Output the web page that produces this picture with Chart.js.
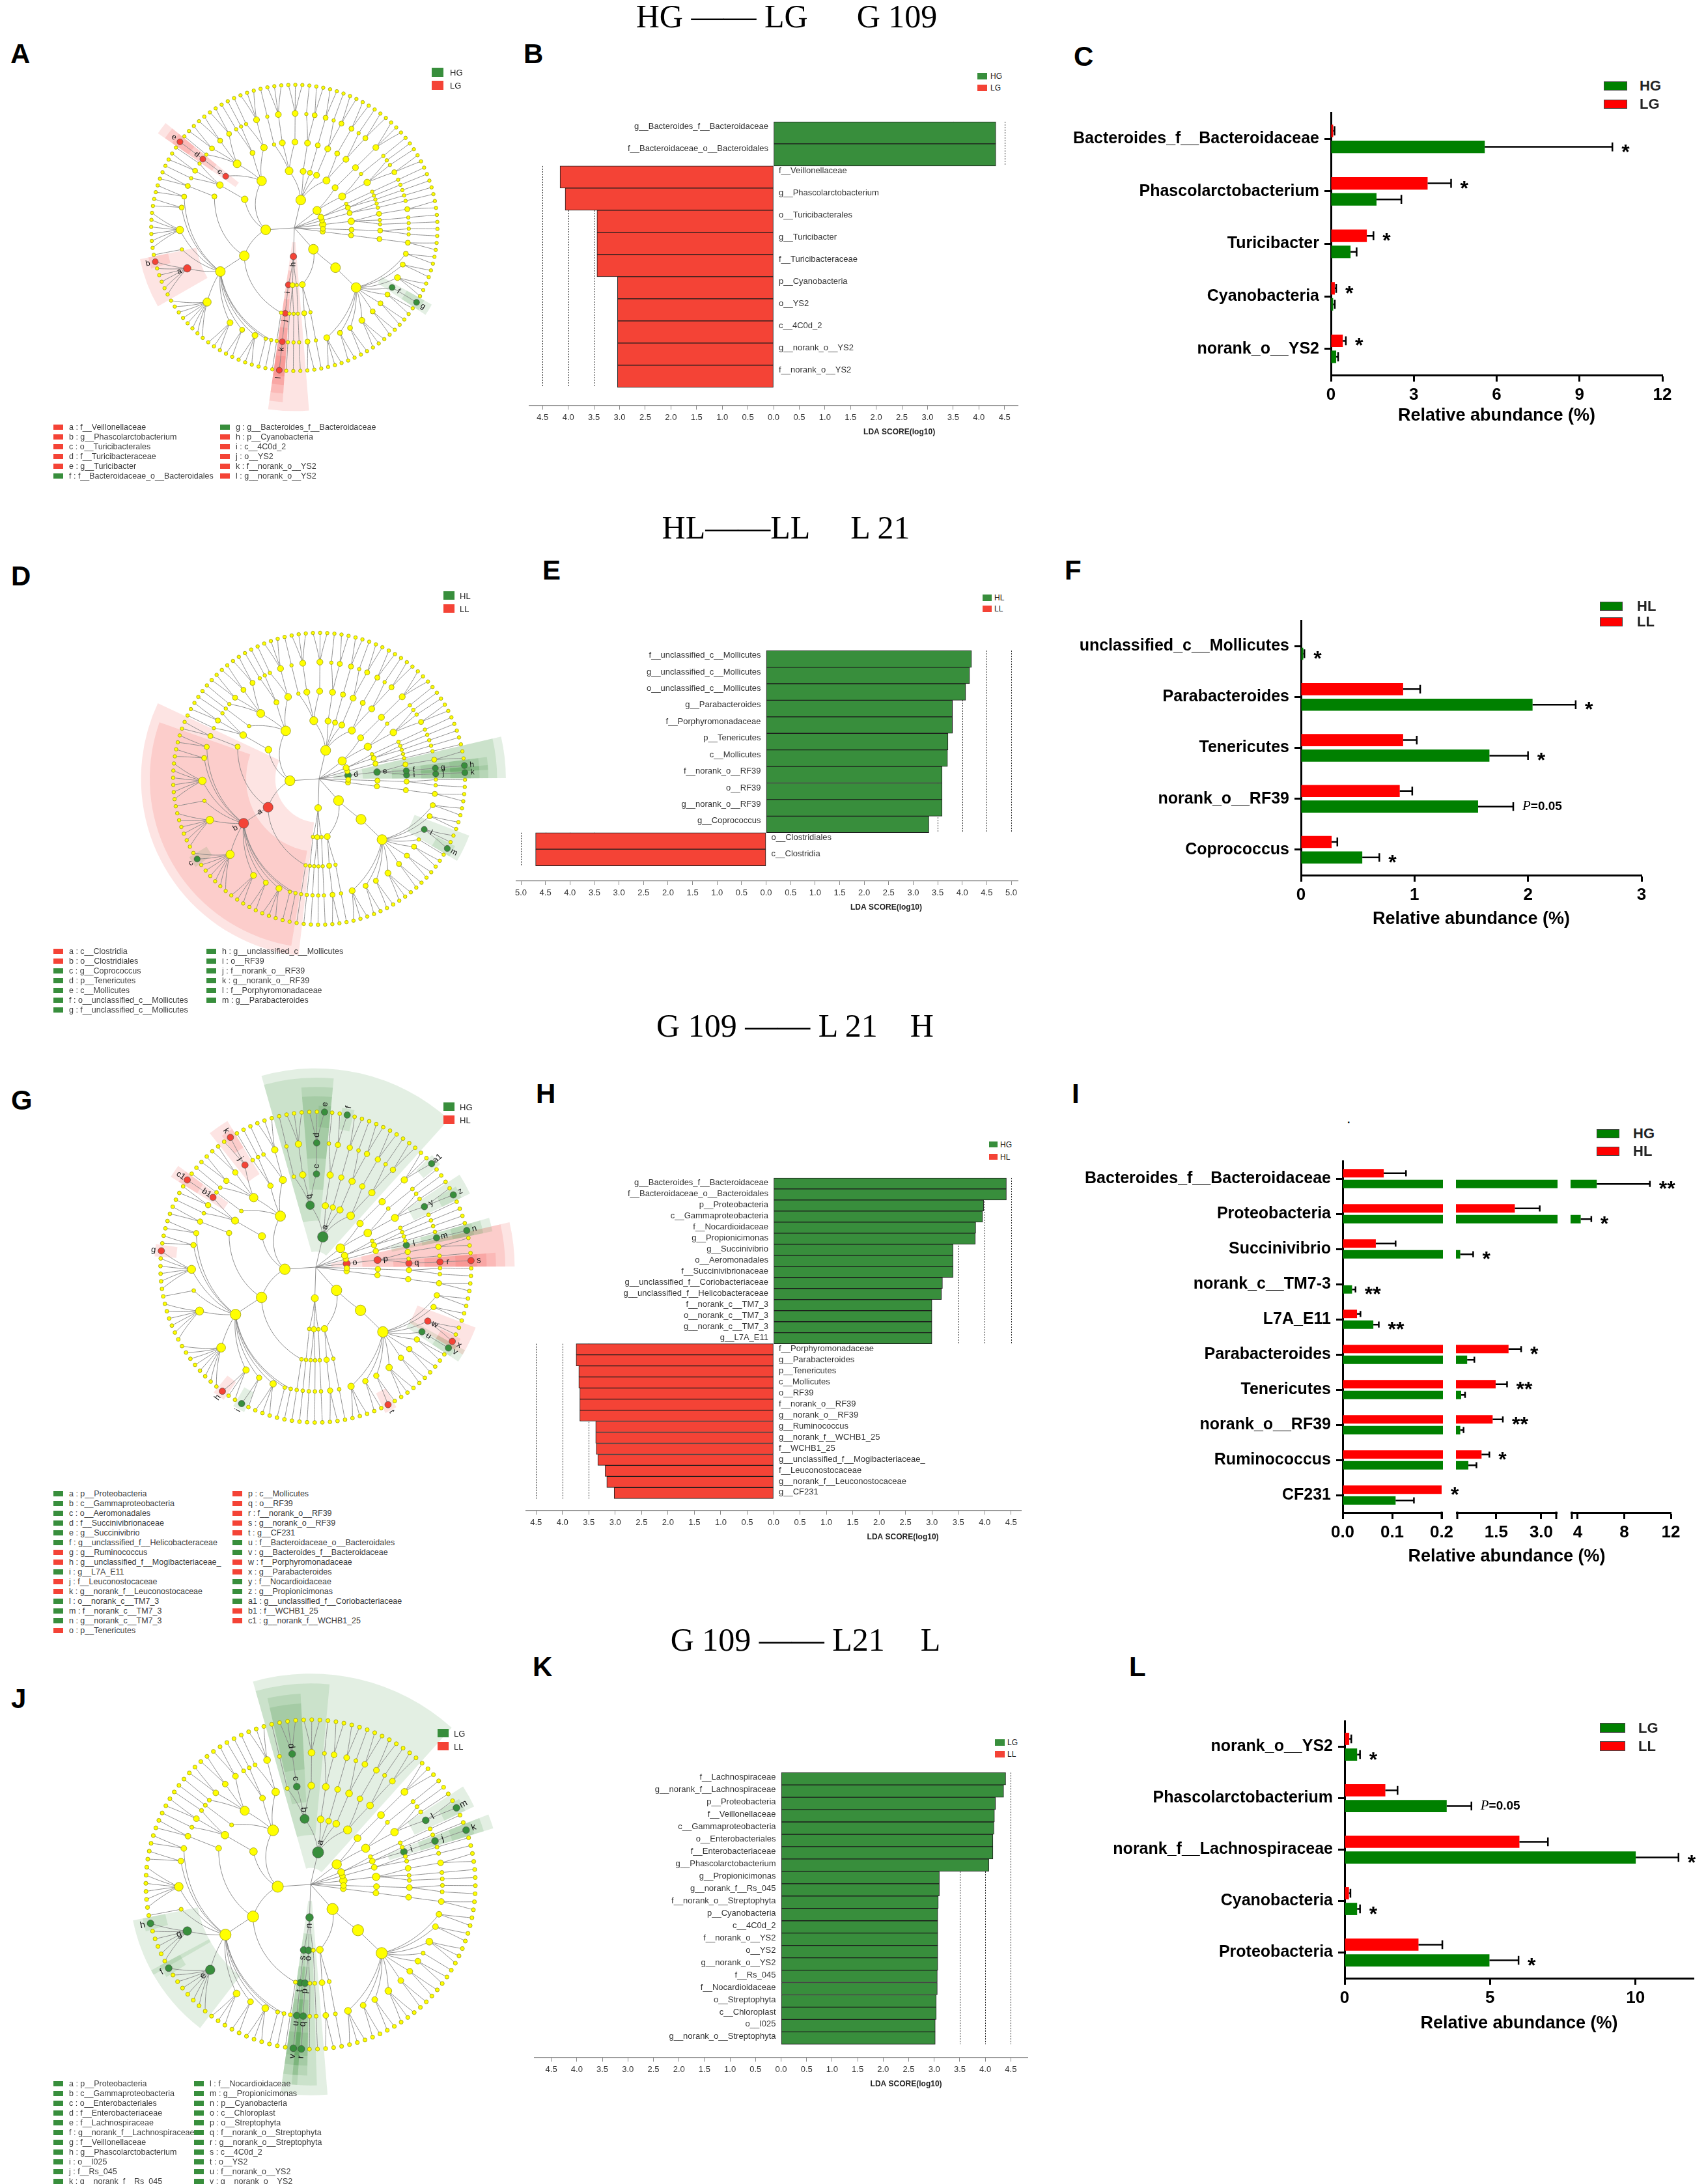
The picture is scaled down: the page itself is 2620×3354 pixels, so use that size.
<!DOCTYPE html>
<html>
<head>
<meta charset="utf-8">
<script src="https://cdn.jsdelivr.net/npm/chart.js@4.4.1/dist/chart.umd.min.js"></script>
<style>
  html, body { margin: 0; padding: 0; background: #fff; }
  body { position: relative; width: 2620px; height: 3354px; overflow: hidden;
         font-family: 'Liberation Sans', Arial, Helvetica, sans-serif; }
  .title { position: absolute; font-family: 'Liberation Serif', 'Times New Roman', serif;
           font-size: 50px; line-height: 1; white-space: pre; transform: translate(-50%, -50%); }
  .tag { position: absolute; font-weight: bold; font-size: 42px; line-height: 1; }
</style>
</head>
<body>
<div class="title" style="left:1208px;top:25px">HG —— LG<span style="margin-left:75px">G 109</span></div>
<div class="title" style="left:1207px;top:810px">HL——LL<span style="margin-left:62px">L 21</span></div>
<div class="title" style="left:1221px;top:1575px">G 109 —— L 21<span style="margin-left:50px">H</span></div>
<div class="title" style="left:1237px;top:2518px">G 109 —— L21<span style="margin-left:55px">L</span></div>

<div class="tag" style="left:16px;top:62px">A</div>
<div class="tag" style="left:804px;top:62px">B</div>
<div class="tag" style="left:1649px;top:66px">C</div>
<div class="tag" style="left:17px;top:864px">D</div>
<div class="tag" style="left:833px;top:855px">E</div>
<div class="tag" style="left:1635px;top:855px">F</div>
<div class="tag" style="left:17px;top:1669px">G</div>
<div class="tag" style="left:823px;top:1659px">H</div>
<div class="tag" style="left:1646px;top:1659px">I</div>
<div class="tag" style="left:17px;top:2588px">J</div>
<div class="tag" style="left:818px;top:2539px">K</div>
<div class="tag" style="left:1734px;top:2539px">L</div>

<script>
// ---------------------------------------------------------------
// LDA (LEfSe) bar data
// ---------------------------------------------------------------
const ldaTicks45 = [-4.5, -4, -3.5, -3, -2.5, -2, -1.5, -1, -0.5, 0, 0.5, 1, 1.5, 2, 2.5, 3, 3.5, 4, 4.5];
const ldaTicks50 = [-5, -4.5, -4, -3.5, -3, -2.5, -2, -1.5, -1, -0.5, 0, 0.5, 1, 1.5, 2, 2.5, 3, 3.5, 4, 4.5, 5];

const bNames = ['g__Bacteroides_f__Bacteroidaceae', 'f__Bacteroidaceae_o__Bacteroidales', 'f__Veillonellaceae',
  'g__Phascolarctobacterium', 'o__Turicibacterales', 'g__Turicibacter', 'f__Turicibacteraceae', 'p__Cyanobacteria',
  'o__YS2', 'c__4C0d_2', 'g__norank_o__YS2', 'f__norank_o__YS2'];
const bScores = [4.33, 4.33, 4.16, 4.06, 3.44, 3.44, 3.44, 3.04, 3.04, 3.04, 3.04, 3.04];
const bGroups = ['HG', 'HG', 'LG', 'LG', 'LG', 'LG', 'LG', 'LG', 'LG', 'LG', 'LG', 'LG'];

const eNames = ['f__unclassified_c__Mollicutes', 'g__unclassified_c__Mollicutes', 'o__unclassified_c__Mollicutes',
  'g__Parabacteroides', 'f__Porphyromonadaceae', 'p__Tenericutes', 'c__Mollicutes', 'f__norank_o__RF39', 'o__RF39',
  'g__norank_o__RF39', 'g__Coprococcus', 'o__Clostridiales', 'c__Clostridia'];
const eScores = [4.19, 4.15, 4.07, 3.80, 3.80, 3.71, 3.70, 3.59, 3.59, 3.59, 3.32, 4.70, 4.70];
const eGroups = ['HL', 'HL', 'HL', 'HL', 'HL', 'HL', 'HL', 'HL', 'HL', 'HL', 'HL', 'LL', 'LL'];

const hNames = ['g__Bacteroides_f__Bacteroidaceae', 'f__Bacteroidaceae_o__Bacteroidales', 'p__Proteobacteria',
  'c__Gammaproteobacteria', 'f__Nocardioidaceae', 'g__Propionicimonas', 'g__Succinivibrio', 'o__Aeromonadales',
  'f__Succinivibrionaceae', 'g__unclassified_f__Coriobacteriaceae', 'g__unclassified_f__Helicobacteraceae',
  'f__norank_c__TM7_3', 'o__norank_c__TM7_3', 'g__norank_c__TM7_3', 'g__L7A_E11',
  'f__Porphyromonadaceae', 'g__Parabacteroides', 'p__Tenericutes', 'c__Mollicutes', 'o__RF39', 'f__norank_o__RF39',
  'g__norank_o__RF39', 'g__Ruminococcus', 'g__norank_f__WCHB1_25', 'f__WCHB1_25',
  'g__unclassified_f__Mogibacteriaceae_', 'f__Leuconostocaceae', 'g__norank_f__Leuconostocaceae', 'g__CF231'];
const hScores = [4.41, 4.41, 3.98, 3.96, 3.83, 3.82, 3.40, 3.40, 3.40, 3.20, 3.18, 3.00, 3.00, 3.00, 3.00,
  3.74, 3.74, 3.69, 3.69, 3.67, 3.67, 3.67, 3.37, 3.37, 3.36, 3.33, 3.19, 3.16, 3.02];
const hGroups = ['HG', 'HG', 'HG', 'HG', 'HG', 'HG', 'HG', 'HG', 'HG', 'HG', 'HG', 'HG', 'HG', 'HG', 'HG',
  'HL', 'HL', 'HL', 'HL', 'HL', 'HL', 'HL', 'HL', 'HL', 'HL', 'HL', 'HL', 'HL', 'HL'];

const kNames = ['f__Lachnospiraceae', 'g__norank_f__Lachnospiraceae', 'p__Proteobacteria', 'f__Veillonellaceae',
  'c__Gammaproteobacteria', 'o__Enterobacteriales', 'f__Enterobacteriaceae', 'g__Phascolarctobacterium',
  'g__Propionicimonas', 'g__norank_f__Rs_045', 'f__norank_o__Streptophyta', 'p__Cyanobacteria', 'c__4C0d_2',
  'f__norank_o__YS2', 'o__YS2', 'g__norank_o__YS2', 'f__Rs_045', 'f__Nocardioidaceae', 'o__Streptophyta',
  'c__Chloroplast', 'o__I025', 'g__norank_o__Streptophyta'];
const kScores = [4.40, 4.36, 4.20, 4.18, 4.17, 4.15, 4.15, 4.07, 3.10, 3.10, 3.08, 3.07, 3.07, 3.07, 3.07, 3.07,
  3.06, 3.06, 3.04, 3.04, 3.02, 3.02];
const kGroups = ['LG', 'LG', 'LG', 'LG', 'LG', 'LG', 'LG', 'LG', 'LG', 'LG', 'LG', 'LG', 'LG', 'LG', 'LG', 'LG',
  'LG', 'LG', 'LG', 'LG', 'LG', 'LG'];

// ---------------------------------------------------------------
// relative abundance (%) data, mean and SEM
// ---------------------------------------------------------------
const cCats = ['Bacteroides_f__Bacteroidaceae', 'Phascolarctobacterium', 'Turicibacter', 'Cyanobacteria', 'norank_o__YS2'];
const cHG = [5.57, 1.65, 0.71, 0.08, 0.19];
const cHGErr = [4.62, 0.90, 0.22, 0.06, 0.07];
const cLG = [0.08, 3.50, 1.30, 0.14, 0.43];
const cLGErr = [0.05, 0.85, 0.24, 0.05, 0.11];
const cSig = ['*', '*', '*', '*', '*'];
const cSigRow = ['HG', 'LG', 'LG', 'LG', 'LG'];
const cTicks = [0, 3, 6, 9, 12];
const cTickLabels = ['0', '3', '6', '9', '12'];

const fCats = ['unclassified_c__Mollicutes', 'Parabacteroides', 'Tenericutes', 'norank_o__RF39', 'Coprococcus'];
const fHL = [0.02, 2.04, 1.66, 1.56, 0.54];
const fHLErr = [0.01, 0.38, 0.34, 0.31, 0.15];
const fLL = [0, 0.90, 0.90, 0.87, 0.27];
const fLLErr = [0, 0.15, 0.12, 0.11, 0.05];
const fSig = ['*', '*', '*', 'P=0.05', '*'];
const fSigRow = ['HL', 'HL', 'HL', 'HL', 'HL'];
const fTicks = [0, 1, 2, 3];
const fTickLabels = ['0', '1', '2', '3'];

const iCats = ['Bacteroides_f__Bacteroidaceae', 'Proteobacteria', 'Succinivibrio', 'norank_c__TM7-3', 'L7A_E11',
  'Parabacteroides', 'Tenericutes', 'norank_o__RF39', 'Ruminococcus', 'CF231'];
const iHG = [5.64, 4.26, 0.30, 0.019, 0.062, 0.53, 0.33, 0.30, 0.57, 0.107];
const iHGErr = [4.56, 0.91, 0.43, 0.007, 0.011, 0.24, 0.13, 0.11, 0.27, 0.037];
const iHL = [0.083, 2.12, 0.067, 0, 0.029, 1.91, 1.48, 1.38, 1.01, 0.2];
const iHLErr = [0.045, 0.83, 0.04, 0, 0.007, 0.42, 0.38, 0.34, 0.26, 0];
const iSig = ['**', '*', '*', '**', '**', '*', '**', '**', '*', '*'];
const iSigRow = ['HG', 'HG', 'HG', 'HG', 'HG', 'HL', 'HL', 'HL', 'HL', 'HL'];
const iSegments = [[0, 0.2], [0.2, 3.5], [3.5, 12]];
const iTicks = [0, 0.1, 0.2, 1.5, 3, 4, 8, 12];
const iTickLabels = ['0.0', '0.1', '0.2', '1.5', '3.0', '4', '8', '12'];

const lCats = ['norank_o__YS2', 'Phascolarctobacterium', 'norank_f__Lachnospiraceae', 'Cyanobacteria', 'Proteobacteria'];
const lLG = [0.43, 3.51, 10.01, 0.43, 4.98];
const lLGErr = [0.10, 0.85, 1.47, 0.10, 1.00];
const lLL = [0.16, 1.40, 6.01, 0.15, 2.54];
const lLLErr = [0.07, 0.42, 0.98, 0.05, 0.82];
const lSig = ['*', 'P=0.05', '*', '*', '*'];
const lSigRow = ['LG', 'LG', 'LG', 'LG', 'LG'];
const lTicks = [0, 5, 10];
const lTickLabels = ['0', '5', '10'];

// ---------------------------------------------------------------
// cladogram: taxonomy (phylum > class > order > family > genus),
// numbers stand for unnamed taxa; highlighted clades per panel
// ---------------------------------------------------------------
const cladeTree = [
  ['p__Tenericutes', [
    ['c__Mollicutes', [
      ['o__RF39', [['f__norank_o__RF39', ['g__norank_o__RF39']]]],
      ['o__unclassified_c__Mollicutes', [['f__unclassified_c__Mollicutes', ['g__unclassified_c__Mollicutes']]]],
      [2]]]]],
  ['p__TM7', [
    ['c__TM7_3', [
      ['o__norank_c__TM7_3', [['f__norank_c__TM7_3', ['g__norank_c__TM7_3']]]],
      [1]]]]],
  ['p__Planctomycetes', [
    ['c__Phycisphaerae', [
      ['o__I025', [['f__Rs_045', ['g__norank_f__Rs_045']]]],
      [1]]],
    [[1]]]],
  ['p__Actinobacteria', [
    ['c__Actinobacteria', [
      ['o__Actinomycetales', [['f__Nocardioidaceae', ['g__Propionicimonas', 1]], 1, 1]],
      ['o__Bifidobacteriales', [1]]]],
    ['c__Coriobacteriia', [['o__Coriobacteriales', [['f__Coriobacteriaceae', ['g__unclassified_f__Coriobacteriaceae', 2]]]]]]]],
  ['p__Proteobacteria', [
    ['c__Alphaproteobacteria', [[2, 1], [2]]],
    ['c__Betaproteobacteria', [[2, 1]]],
    ['c__Deltaproteobacteria', [[2]]],
    ['c__Epsilonproteobacteria', [['o__Campylobacterales', [['f__Helicobacteraceae', ['g__unclassified_f__Helicobacteraceae', 1]], 1]]]],
    ['c__Gammaproteobacteria', [
      ['o__Aeromonadales', [['f__Succinivibrionaceae', ['g__Succinivibrio', 2]]]],
      ['o__Enterobacteriales', [['f__Enterobacteriaceae', [3]]]],
      [1]]]]],
  ['p__Firmicutes', [
    ['c__Bacilli', [
      [3, 1], [1, 1],
      ['o__Lactobacillales', [['f__Leuconostocaceae', ['g__norank_f__Leuconostocaceae', 1]], 2, 2, 1]],
      ['o__Turicibacterales', [['f__Turicibacteraceae', ['g__Turicibacter']]]]]],
    ['c__Erysipelotrichi', [[['f__WCHB1_25', ['g__norank_f__WCHB1_25']], 2, 1]]],
    ['c__Clostridia', [
      [2],
      ['o__Clostridiales', [
        2, 2,
        ['f__Ruminococcaceae', ['g__Ruminococcus', 5]],
        1,
        ['f__Veillonellaceae', ['g__Phascolarctobacterium', 5]],
        ['f__Lachnospiraceae', ['g__norank_f__Lachnospiraceae', 'g__Coprococcus', 6]],
        ['f__Mogibacteriaceae', ['g__unclassified_f__Mogibacteriaceae_', 2]],
        ['', ['g__L7A_E11', 1]],
        3, 1, 1]],
      [1]]]]],
  ['p__Cyanobacteria', [
    ['c__4C0d_2', [['o__YS2', [['f__norank_o__YS2', ['g__norank_o__YS2']]]]]],
    ['c__Chloroplast', [['o__Streptophyta', [['f__norank_o__Streptophyta', ['g__norank_o__Streptophyta']]]], [1]]],
    [[1]]]],
  ['p__Bacteroidetes', [
    [[2], [1]],
    ['c__Bacteroidia', [
      ['o__Bacteroidales', [
        3, 2, ['f__Paraprevotellaceae', ['g__CF231', 1]], 3, 2, 2, 2,
        ['f__Bacteroidaceae_o__Bacteroidales', ['g__Bacteroides_f__Bacteroidaceae']],
        ['f__Porphyromonadaceae', ['g__Parabacteroides', 2]],
        2, 2]]]]]],
  [[[2]]], [[[1, 1]]]
];

const aClades = ['f__Veillonellaceae', 'g__Phascolarctobacterium', 'o__Turicibacterales', 'f__Turicibacteraceae',
  'g__Turicibacter', 'f__Bacteroidaceae_o__Bacteroidales', 'g__Bacteroides_f__Bacteroidaceae', 'p__Cyanobacteria',
  'c__4C0d_2', 'o__YS2', 'f__norank_o__YS2', 'g__norank_o__YS2'];
const aGroups = [1, 1, 1, 1, 1, 0, 0, 1, 1, 1, 1, 1];

const dClades = ['c__Clostridia', 'o__Clostridiales', 'g__Coprococcus', 'p__Tenericutes', 'c__Mollicutes',
  'o__unclassified_c__Mollicutes', 'f__unclassified_c__Mollicutes', 'g__unclassified_c__Mollicutes', 'o__RF39',
  'f__norank_o__RF39', 'g__norank_o__RF39', 'f__Porphyromonadaceae', 'g__Parabacteroides'];
const dGroups = [1, 1, 0, 0, 0, 0, 0, 0, 0, 0, 0, 0, 0];

const gClades = ['p__Proteobacteria', 'c__Gammaproteobacteria', 'o__Aeromonadales', 'f__Succinivibrionaceae',
  'g__Succinivibrio', 'g__unclassified_f__Helicobacteraceae', 'g__Ruminococcus', 'g__unclassified_f__Mogibacteriaceae_',
  'g__L7A_E11', 'f__Leuconostocaceae', 'g__norank_f__Leuconostocaceae', 'o__norank_c__TM7_3', 'f__norank_c__TM7_3',
  'g__norank_c__TM7_3', 'p__Tenericutes', 'c__Mollicutes', 'o__RF39', 'f__norank_o__RF39', 'g__norank_o__RF39',
  'g__CF231', 'f__Bacteroidaceae_o__Bacteroidales', 'g__Bacteroides_f__Bacteroidaceae', 'f__Porphyromonadaceae',
  'g__Parabacteroides', 'f__Nocardioidaceae', 'g__Propionicimonas', 'g__unclassified_f__Coriobacteriaceae',
  'f__WCHB1_25', 'g__norank_f__WCHB1_25'];
const gGroups = [0, 0, 0, 0, 0, 0, 1, 1, 0, 1, 1, 0, 0, 0, 1, 1, 1, 1, 1, 1, 0, 0, 1, 1, 0, 0, 0, 1, 1];

const jClades = ['p__Proteobacteria', 'c__Gammaproteobacteria', 'o__Enterobacteriales', 'f__Enterobacteriaceae',
  'f__Lachnospiraceae', 'g__norank_f__Lachnospiraceae', 'f__Veillonellaceae', 'g__Phascolarctobacterium', 'o__I025',
  'f__Rs_045', 'g__norank_f__Rs_045', 'f__Nocardioidaceae', 'g__Propionicimonas', 'p__Cyanobacteria', 'c__Chloroplast',
  'o__Streptophyta', 'f__norank_o__Streptophyta', 'g__norank_o__Streptophyta', 'c__4C0d_2', 'o__YS2',
  'f__norank_o__YS2', 'g__norank_o__YS2'];
const jGroups = [0, 0, 0, 0, 0, 0, 0, 0, 0, 0, 0, 0, 0, 0, 0, 0, 0, 0, 0, 0, 0, 0];

// ---------------------------------------------------------------
const SANS = "'Liberation Sans', Arial, Helvetica, sans-serif";
const GREEN = '#388E3C', RED = '#F44336';
const BAR_GREEN = '#008000', BAR_RED = '#FF0000';
const cladeStart = 1;   // angle (deg) of the first leaf edge

Chart.defaults.font.family = SANS;
Chart.defaults.color = '#000';

function el(tag, css, text) {
  const e = document.createElement(tag);
  e.style.cssText = 'position:absolute;' + css;
  if (text != null) e.textContent = text;
  document.body.appendChild(e);
  return e;
}
function canvasAt(x, y, w, h) {
  const c = el('canvas', `left:${x}px;top:${y}px;width:${w}px;height:${h}px;`);
  c.width = w; c.height = h;
  return c;
}
function swatch(x, y, w, h, color, border) {
  el('div', `left:${x}px;top:${y}px;width:${w}px;height:${h}px;background:${color};box-sizing:border-box;` +
    (border ? `border:1px solid ${border};` : ''));
}
function text(x, yMid, str, font, color) {
  el('div', `left:${x}px;top:${yMid}px;transform:translateY(-50%);font:${font};color:${color || '#000'};` +
    'white-space:nowrap;line-height:1;', str);
}
function hexA(hex, a) {
  const n = parseInt(hex.slice(1), 16);
  return `rgba(${n >> 16},${(n >> 8) & 255},${n & 255},${a})`;
}
function letter(k) { return k < 26 ? String.fromCharCode(97 + k) : String.fromCharCode(71 + k) + '1'; }

// ---------------- build the tree ----------------
function grow(spec, level) {
  if (typeof spec === 'string') return {name: spec, level, kids: []};
  let name = '', kids;
  if (typeof spec === 'number') kids = [spec];
  else if (spec.length === 2 && typeof spec[0] === 'string' && Array.isArray(spec[1])) { name = spec[0]; kids = spec[1]; }
  else kids = spec;
  const node = {name, level, kids: []};
  kids.forEach(k => {
    if (level + 1 === 5 && typeof k === 'number') {
      for (let i = 0; i < k; i++) node.kids.push({name: '', level: 5, kids: []});
    } else node.kids.push(grow(k, level + 1));
  });
  node.kids.forEach(c => { c.parent = node; });
  return node;
}
const root = {name: 'root', level: 0, kids: cladeTree.map(p => grow(p, 1))};
root.kids.forEach(c => { c.parent = root; });
const nodes = [];
let leafCount = 0;
(function place(n) {
  nodes.push(n);
  if (!n.kids.length) { n.first = n.last = leafCount++; }
  else { n.kids.forEach(place); n.first = n.kids[0].first; n.last = n.kids[n.kids.length - 1].last; }
  n.leaves = n.last - n.first + 1;
})(root);
const step = 360 / leafCount;
nodes.forEach(n => { n.theta = cladeStart + ((n.first + n.last) / 2 + 0.5) * step; n.r = n.level / 5; });

function polarXY(cx, cy, R, deg, r) {
  const t = deg * Math.PI / 180;
  return [cx + r * R * Math.cos(t), cy - r * R * Math.sin(t)];
}

function cladogram(cx, cy, R, clades, groups, colors) {
  const S = Math.round(R * 1.35);
  const cv = canvasAt(cx - S, cy - S, 2 * S, 2 * S);
  const marks = new Map(clades.map((n, i) => [n, i]));
  const k = R / 226;
  const size = n => Math.min(7.5, 2.7 + 1.2 * Math.log2(n.leaves)) * k;
  const plain = [], hot = [];
  nodes.forEach(n => {
    if (!n.level) return;
    const t = n.theta * Math.PI / 180;
    const p = {x: n.r * Math.cos(t), y: n.r * Math.sin(t), n};
    if (n.name && marks.has(n.name)) { p.k = marks.get(n.name); hot.push(p); } else plain.push(p);
  });
  const hotSize = p => Math.max(4.6 * k, size(p.n));

  const cladePlugin = {
    id: 'clade',
    beforeDatasetsDraw(chart) {
      const {ctx} = chart, xs = chart.scales.x, ys = chart.scales.y;
      const ox = xs.getPixelForValue(0), oy = ys.getPixelForValue(0), RR = xs.getPixelForValue(1) - ox;
      ctx.save();
      hot.slice().sort((a, b) => a.n.level - b.n.level).forEach(p => {
        const n = p.n;
        const a0 = (cladeStart + n.first * step - 0.8) * Math.PI / 180;
        const a1 = (cladeStart + (n.last + 1) * step + 0.8) * Math.PI / 180;
        const rIn = Math.max(0, n.r - 0.1) * RR, rOut = (1.04 + 0.06 * (5 - n.level)) * RR;
        ctx.beginPath();
        ctx.arc(ox, oy, rOut, -a1, -a0);
        ctx.arc(ox, oy, rIn, -a0, -a1, true);
        ctx.closePath();
        ctx.fillStyle = hexA(colors[groups[p.k]], 0.14);
        ctx.fill();
      });
      ctx.strokeStyle = '#858585';
      ctx.lineWidth = 0.9;
      nodes.forEach(n => {
        const p = n.parent;
        if (!p) return;
        ctx.beginPath();
        if (!p.level) {
          ctx.moveTo(ox, oy);
          ctx.lineTo(...polarXY(ox, oy, RR, n.theta, n.r));
        } else {
          for (let s = 0; s <= 12; s++) {
            const f = s / 12;
            const [x, y] = polarXY(ox, oy, RR, p.theta + (n.theta - p.theta) * f, p.r + (n.r - p.r) * f);
            if (s) ctx.lineTo(x, y); else ctx.moveTo(x, y);
          }
        }
        ctx.stroke();
      });
      ctx.restore();
    },
    afterDatasetsDraw(chart) {
      const {ctx} = chart, xs = chart.scales.x, ys = chart.scales.y;
      const ox = xs.getPixelForValue(0), oy = ys.getPixelForValue(0), RR = xs.getPixelForValue(1) - ox;
      ctx.save();
      ctx.font = `${Math.round(12 * k)}px ${SANS}`;
      ctx.fillStyle = '#111';
      ctx.textAlign = 'center';
      ctx.textBaseline = 'middle';
      hot.forEach(p => {
        const t = p.n.theta * Math.PI / 180;
        const rr = p.n.r * RR + hotSize(p) + 7;
        ctx.save();
        ctx.translate(ox + rr * Math.cos(t), oy - rr * Math.sin(t));
        ctx.rotate(Math.cos(t) < 0 ? Math.PI - t : -t);
        ctx.fillText(letter(p.k), 0, 0);
        ctx.restore();
      });
      ctx.restore();
    }
  };

  new Chart(cv, {
    type: 'scatter',
    data: {datasets: [
      {data: plain, pointRadius: plain.map(p => size(p.n)), pointBackgroundColor: '#ffff00',
       pointBorderColor: '#9a9a10', pointBorderWidth: 0.8, clip: false},
      {data: hot, pointRadius: hot.map(hotSize), pointBackgroundColor: hot.map(p => colors[groups[p.k]]),
       pointBorderColor: '#444', pointBorderWidth: 0.6, clip: false}
    ]},
    options: {
      responsive: false, animation: false, events: [],
      layout: {padding: 0},
      scales: {x: {min: -1.35, max: 1.35, display: false}, y: {min: -1.35, max: 1.35, display: false}},
      plugins: {legend: {display: false}, tooltip: {enabled: false}}
    },
    plugins: [cladePlugin]
  });
}

function cladeKey(x1, x2, y0, clades, groups, colors) {
  const half = Math.ceil(clades.length / 2);
  clades.forEach((nm, i) => {
    const col = i < half ? 0 : 1, row = col ? i - half : i;
    const x = col ? x2 : x1, y = y0 + row * 15;
    swatch(x, y - 4, 15, 8, colors[groups[i]]);
    text(x + 24, y, `${letter(i)} : ${nm}`, `12.5px ${SANS}`, '#3a3a3a');
  });
}
function pairKey(x, y, w, h, dy, pair, colors, font, tx, border) {
  pair.forEach((g, i) => {
    swatch(x, y + i * dy, w, h, colors[i], border);
    text(tx, y + i * dy + h / 2, g, font, '#222');
  });
}

// ---------------- LEfSe LDA bar charts ----------------
function ldaChart(cfg) {
  const n = cfg.names.length;
  const cv = canvasAt(cfg.left, cfg.top, cfg.width, Math.round(n * cfg.band + cfg.axisGap + 60));
  const sign = cfg.groups.map(g => g === cfg.pair[0] ? 1 : -1);
  const ldaPlugin = {
    id: 'lda',
    beforeDatasetsDraw(chart) {
      const {ctx} = chart, xs = chart.scales.x, ys = chart.scales.y;
      ctx.save();
      ctx.strokeStyle = '#222'; ctx.lineWidth = 1; ctx.setLineDash([2, 2]);
      [1, -1].forEach(side => {
        const idx = sign.map((s, i) => s === side ? i : -1).filter(i => i >= 0);
        if (!idx.length) return;
        const y0 = ys.getPixelForValue(idx[0] - 0.5), y1 = ys.getPixelForValue(idx[idx.length - 1] + 0.5);
        const lim = Math.abs(side > 0 ? cfg.xlim[1] : cfg.xlim[0]);
        for (let v = 3.5; v <= lim + 1e-9; v += 0.5) {
          const x = Math.round(xs.getPixelForValue(side * v)) + 0.5;
          ctx.beginPath(); ctx.moveTo(x, y0); ctx.lineTo(x, y1); ctx.stroke();
        }
      });
      ctx.restore();
    },
    afterDatasetsDraw(chart) {
      const {ctx} = chart, xs = chart.scales.x, ys = chart.scales.y;
      const x0 = xs.getPixelForValue(0);
      ctx.save();
      ctx.font = `13px ${SANS}`;
      ctx.fillStyle = '#333';
      ctx.textBaseline = 'top';
      cfg.names.forEach((nm, i) => {
        const y = ys.getPixelForValue(i - 0.5) + 1;
        if (sign[i] > 0) { ctx.textAlign = 'right'; ctx.fillText(nm, x0 - 8, y); }
        else { ctx.textAlign = 'left'; ctx.fillText(nm, x0 + 8, y); }
      });
      ctx.restore();
    },
    afterDraw(chart) {
      const {ctx, chartArea} = chart, xs = chart.scales.x;
      ctx.save();
      ctx.font = `bold 12px ${SANS}`;
      ctx.fillStyle = '#222';
      ctx.textAlign = 'center';
      ctx.textBaseline = 'middle';
      ctx.fillText('LDA SCORE(log10)', xs.getPixelForValue(2.45), chartArea.bottom + 41);
      ctx.restore();
    }
  };
  new Chart(cv, {
    type: 'bar',
    data: {datasets: [{
      data: cfg.scores.map((s, i) => ({x: s * sign[i], y: i})),
      backgroundColor: sign.map(s => s > 0 ? GREEN : RED),
      borderColor: '#1c1c1c', borderWidth: 1, borderSkipped: false,
      barPercentage: 1, categoryPercentage: 1
    }]},
    options: {
      indexAxis: 'y', responsive: false, animation: false, events: [],
      layout: {padding: 0},
      plugins: {legend: {display: false}, tooltip: {enabled: false}},
      scales: {
        x: {type: 'linear', min: cfg.xlim[0], max: cfg.xlim[1],
          afterBuildTicks: s => { s.ticks = cfg.ticks.map(v => ({value: v})); },
          afterFit: s => { s.height = 60; },
          ticks: {autoSkip: false, maxRotation: 0, padding: 5, color: '#333', font: {size: 13},
            callback: v => Math.abs(v).toFixed(1)},
          grid: {drawOnChartArea: false, tickLength: 6, color: '#8a8a8a'},
          border: {color: '#8a8a8a', width: 1.2}},
        y: {type: 'linear', reverse: true, min: -0.5, max: n - 0.5 + cfg.axisGap / cfg.band, display: false,
          afterBuildTicks: s => { s.ticks = cfg.names.map((_, i) => ({value: i})); }}
      }
    },
    plugins: [ldaPlugin]
  });
}

// ---------------- abundance bar charts ----------------
class BrokenScale extends Chart.LinearScale {
  static id = 'broken';
  static defaults = Chart.LinearScale.defaults;
  segWidth() { return (this.width - 24 * (iSegments.length - 1)) / iSegments.length; }
  getPixelForValue(value) {
    const sw = this.segWidth();
    let k = iSegments.findIndex(s => value <= s[1]);
    if (k < 0) k = iSegments.length - 1;
    const [a, b] = iSegments[k];
    return this.left + k * (sw + 24) + (value - a) / (b - a) * sw;
  }
  getValueForPixel(pixel) {
    const sw = this.segWidth();
    const k = Math.max(0, Math.min(iSegments.length - 1, Math.floor((pixel - this.left) / (sw + 24))));
    const [a, b] = iSegments[k];
    return a + (pixel - this.left - k * (sw + 24)) / sw * (b - a);
  }
}
Chart.register(BrokenScale);

const gapPlugin = {
  id: 'gaps',
  afterDatasetsDraw(chart) {
    const xs = chart.scales.x, {ctx, chartArea} = chart;
    const sw = xs.segWidth();
    ctx.save();
    for (let k = 1; k < iSegments.length; k++) {
      const g0 = xs.left + k * sw + (k - 1) * 24;
      ctx.fillStyle = '#fff';
      ctx.fillRect(g0 + 2, chartArea.top - 2, 20, chartArea.bottom - chartArea.top + 16);
      ctx.strokeStyle = '#000';
      ctx.lineWidth = 3;
      [g0, g0 + 24].forEach(x => {
        ctx.beginPath(); ctx.moveTo(x, chartArea.bottom - 1.5); ctx.lineTo(x, chartArea.bottom + 10); ctx.stroke();
      });
    }
    ctx.restore();
  }
};

function extrasPlugin(cfg) {
  return {
    id: 'extras',
    afterDatasetsDraw(chart) {
      const {ctx} = chart, xs = chart.scales.x;
      ctx.save();
      ctx.strokeStyle = '#000';
      ctx.lineWidth = 2.5;
      chart.data.datasets.forEach((ds, di) => {
        chart.getDatasetMeta(di).data.forEach((bar, j) => {
          const e = ds.errs[j];
          if (!e) return;
          const x0 = bar.x, x1 = xs.getPixelForValue(ds.data[j] + e), hh = bar.height * 0.36;
          ctx.beginPath();
          ctx.moveTo(x0, bar.y); ctx.lineTo(x1, bar.y);
          ctx.moveTo(x1, bar.y - hh); ctx.lineTo(x1, bar.y + hh);
          ctx.stroke();
        });
      });
      ctx.fillStyle = '#000';
      ctx.textAlign = 'left';
      cfg.sig.forEach((txt, j) => {
        if (!txt) return;
        const di = cfg.sigRow[j] === cfg.pair[1] ? 0 : 1;
        const ds = chart.data.datasets[di], bar = chart.getDatasetMeta(di).data[j];
        const x = xs.getPixelForValue(ds.data[j] + (ds.errs[j] || 0)) + 14;
        if (txt.startsWith('P')) {
          ctx.textBaseline = 'middle';
          ctx.font = "italic 21px 'Liberation Serif', serif";
          ctx.fillText('P', x, bar.y);
          const w = ctx.measureText('P').width;
          ctx.font = `bold 19px 'Liberation Sans Narrow', ${SANS}`;
          ctx.fillText(txt.slice(1), x + w, bar.y);
        } else {
          ctx.textBaseline = 'alphabetic';
          ctx.font = `bold 32px ${SANS}`;
          ctx.fillText(txt, x, bar.y + 18);
        }
      });
      ctx.restore();
    }
  };
}

function abundanceChart(cfg) {
  const cv = canvasAt(cfg.left, cfg.top, cfg.width, cfg.height);
  const ds = (label, data, errs, color) => ({label, data, errs, backgroundColor: color, borderWidth: 0,
    categoryPercentage: 0.61, barPercentage: 0.78});
  new Chart(cv, {
    type: 'bar',
    data: {labels: cfg.cats, datasets: [ds(cfg.pair[1], cfg.v2, cfg.e2, BAR_RED), ds(cfg.pair[0], cfg.v1, cfg.e1, BAR_GREEN)]},
    options: {
      indexAxis: 'y', responsive: false, animation: false, events: [],
      layout: {padding: {top: cfg.padTop, right: cfg.padRight, left: 0, bottom: 0}},
      plugins: {legend: {display: false}, tooltip: {enabled: false}},
      scales: {
        x: {
          type: cfg.xtype || 'linear', min: 0, max: cfg.xmax,
          afterBuildTicks: s => { s.ticks = cfg.ticks.map(v => ({value: v})); },
          afterFit: s => { s.height = cfg.axisH; },
          ticks: {autoSkip: false, maxRotation: 0, padding: 5, color: '#000', font: {size: 26, weight: 'bold'},
            callback: (v, i) => cfg.tickLabels[i]},
          grid: {drawOnChartArea: false, tickLength: 10, tickWidth: 3, color: '#000'},
          border: {color: '#000', width: 3},
          title: {display: true, text: 'Relative abundance (%)', color: '#000',
            font: {size: 27, weight: 'bold'}, padding: {top: 0, bottom: 6}}
        },
        y: {
          afterFit: s => { s.width = cfg.axisW; },
          ticks: {color: '#000', font: {size: 25, weight: 'bold'}, padding: 8, autoSkip: false},
          grid: {drawOnChartArea: false, offset: false, tickLength: 10, tickWidth: 3, color: '#000'},
          border: {color: '#000', width: 3}
        }
      }
    },
    plugins: (cfg.xtype === 'broken' ? [gapPlugin] : []).concat([extrasPlugin(cfg)])
  });
}

// ---------------- row 1 ----------------
cladogram(452, 350, 226, aClades, aGroups, [GREEN, RED]);
pairKey(663, 104, 18, 14, 20, ['HG', 'LG'], [GREEN, RED], `13px ${SANS}`, 691);
cladeKey(82, 338, 656, aClades, aGroups, [GREEN, RED]);

ldaChart({left: 812, top: 168, width: 752, band: 37.08, axisGap: 10, names: bNames, scores: bScores,
  groups: bGroups, pair: ['HG', 'LG'], xlim: [-4.77, 4.77], ticks: ldaTicks45});
pairKey(1501, 112, 15, 10, 18, ['HG', 'LG'], [GREEN, RED], `12px ${SANS}`, 1521);

abundanceChart({left: 1640, top: 150, width: 980, height: 511, padTop: 19, padRight: 67, axisW: 404, axisH: 85,
  cats: cCats, pair: ['HG', 'LG'], v1: cHG, e1: cHGErr, v2: cLG, e2: cLGErr, sig: cSig, sigRow: cSigRow,
  xmax: 12, ticks: cTicks, tickLabels: cTickLabels});
pairKey(2463, 125, 36, 14, 28, ['HG', 'LG'], [BAR_GREEN, BAR_RED], `bold 22px ${SANS}`, 2518, '#444');

// ---------------- row 2 ----------------
cladogram(490, 1196, 230, dClades, dGroups, [GREEN, RED]);
pairKey(681, 908, 17, 13, 20, ['HL', 'LL'], [GREEN, RED], `13px ${SANS}`, 706);
cladeKey(82, 317, 1461, dClades, dGroups, [GREEN, RED]);

ldaChart({left: 786, top: 985, width: 781, band: 27.54, axisGap: 10, names: eNames, scores: eScores,
  groups: eGroups, pair: ['HL', 'LL'], xlim: [-5.1, 5.14], ticks: ldaTicks50});
pairKey(1509, 913, 14, 10, 17, ['HL', 'LL'], [GREEN, RED], `12px ${SANS}`, 1527);

abundanceChart({left: 1594, top: 930, width: 1026, height: 504, padTop: 19, padRight: 99, axisW: 404, axisH: 90,
  cats: fCats, pair: ['HL', 'LL'], v1: fHL, e1: fHLErr, v2: fLL, e2: fLLErr, sig: fSig, sigRow: fSigRow,
  xmax: 3, ticks: fTicks, tickLabels: fTickLabels});
pairKey(2457, 924, 35, 14, 24, ['HL', 'LL'], [BAR_GREEN, BAR_RED], `bold 22px ${SANS}`, 2514, '#444');

// ---------------- row 3 ----------------
cladogram(485, 1946, 245, gClades, gGroups, [GREEN, RED]);
pairKey(681, 1693, 17, 13, 20, ['HG', 'HL'], [GREEN, RED], `13px ${SANS}`, 706);
cladeKey(82, 357, 2294, gClades, gGroups, [GREEN, RED]);

ldaChart({left: 807, top: 1800, width: 762, band: 17.6, axisGap: 10, names: hNames, scores: hScores,
  groups: hGroups, pair: ['HG', 'HL'], xlim: [-4.7, 4.7], ticks: ldaTicks45});
pairKey(1519, 1753, 13, 9, 19, ['HG', 'HL'], [GREEN, RED], `12px ${SANS}`, 1536);

abundanceChart({left: 1640, top: 1760, width: 980, height: 653, padTop: 21, padRight: 54, axisW: 422, axisH: 90,
  cats: iCats, pair: ['HG', 'HL'], v1: iHG, e1: iHGErr, v2: iHL, e2: iHLErr, sig: iSig, sigRow: iSigRow,
  xmax: 12, ticks: iTicks, tickLabels: iTickLabels, xtype: 'broken'});
pairKey(2452, 1734, 35, 14, 27, ['HG', 'HL'], [BAR_GREEN, BAR_RED], `bold 22px ${SANS}`, 2508, '#444');
text(2069, 1720, '.', `bold 16px ${SANS}`);

// ---------------- row 4 ----------------
cladogram(477, 2894, 260, jClades, jGroups, [GREEN, RED]);
pairKey(672, 2655, 17, 13, 20, ['LG', 'LL'], [GREEN, RED], `13px ${SANS}`, 697);
cladeKey(82, 298, 3200, jClades, jGroups, [GREEN, RED]);

ldaChart({left: 820, top: 2712, width: 759, band: 19.86, axisGap: 11, names: kNames, scores: kScores,
  groups: kGroups, pair: ['LG', 'LL'], xlim: [-4.84, 4.84], ticks: ldaTicks45});
pairKey(1528, 2671, 15, 10, 18, ['LG', 'LL'], [GREEN, RED], `12px ${SANS}`, 1547);

abundanceChart({left: 1640, top: 2620, width: 980, height: 510, padTop: 22, padRight: 19, axisW: 425, axisH: 92,
  cats: lCats, pair: ['LG', 'LL'], v1: lLG, e1: lLGErr, v2: lLL, e2: lLLErr, sig: lSig, sigRow: lSigRow,
  xmax: 12, ticks: lTicks, tickLabels: lTickLabels});
pairKey(2457, 2646, 39, 15, 28, ['LG', 'LL'], [BAR_GREEN, BAR_RED], `bold 22px ${SANS}`, 2516, '#444');
</script>
</body>
</html>
